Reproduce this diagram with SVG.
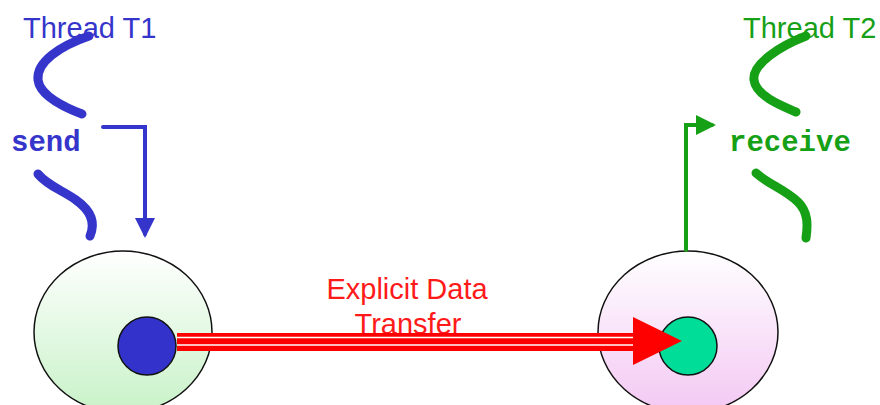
<svg xmlns="http://www.w3.org/2000/svg" width="880" height="405" viewBox="0 0 880 405">
  <defs>
    <linearGradient id="gGreen" x1="0" y1="0" x2="0" y2="1">
      <stop offset="0" stop-color="#ffffff"/>
      <stop offset="1" stop-color="#c8f2c8"/>
    </linearGradient>
    <linearGradient id="gPink" x1="0" y1="0" x2="0" y2="1">
      <stop offset="0" stop-color="#ffffff"/>
      <stop offset="1" stop-color="#f3c8f3"/>
    </linearGradient>
    <marker id="arrBlue" markerWidth="5" markerHeight="5" refX="4" refY="2.5" orient="auto" markerUnits="strokeWidth">
      <path d="M0,0 L5,2.5 L0,5 Z" fill="#3535cc"/>
    </marker>
    <marker id="arrGreen" markerWidth="5" markerHeight="5" refX="4" refY="2.5" orient="auto" markerUnits="strokeWidth">
      <path d="M0,0 L5,2.5 L0,5 Z" fill="#16a016"/>
    </marker>
  </defs>
  <style>
    .title { font-family: "Liberation Sans", Arial, sans-serif; font-size: 29px; }
    .op { font-family: "Liberation Mono", "Courier New", monospace; font-size: 29px; font-weight: bold; }
    .blue { fill: #3535cc; }
    .green { fill: #16a016; }
    .stroke-blue { stroke: #3535cc; fill: none; stroke-linecap: round; }
    .stroke-green { stroke: #16a016; fill: none; stroke-linecap: round; }
    .cell { stroke: #111; stroke-width: 1.5; }
    .label { font-family: "Liberation Sans", Arial, sans-serif; font-size: 29px; fill: #ff1a1a; text-anchor: middle; }
  </style>

  <rect width="880" height="405" fill="#ffffff"/>

  <!-- Thread T1 -->
  <g id="thread-t1">
    <text class="title blue" x="23" y="38">Thread T1</text>
    <path class="stroke-blue" stroke-width="9" d="M89,36 C60,46 36,62 38,80 C40,96 66,108 82,114"/>
    <text class="op blue" x="11" y="151">send</text>
    <path class="stroke-blue" stroke-width="9" d="M38,174 C48,186 62,190 76,200 C90,210 96,222 90,236"/>
  </g>

  <!-- Thread T2 -->
  <g id="thread-t2">
    <text class="title green" x="743" y="38">Thread T2</text>
    <path class="stroke-green" stroke-width="9" d="M806,36 C780,46 752,64 754,80 C756,96 782,106 796,112"/>
    <text class="op green" x="729" y="151">receive</text>
    <path class="stroke-green" stroke-width="9" d="M756,173 C768,184 786,190 798,202 C808,212 808,224 806,238"/>
  </g>

  <!-- Process 1 -->
  <g id="process-1">
    <ellipse class="cell" cx="123" cy="332" rx="89" ry="81" fill="url(#gGreen)"/>
    <circle class="cell" cx="147" cy="346" r="29" fill="#3333cc"/>
  </g>

  <!-- Process 2 -->
  <g id="process-2">
    <ellipse class="cell" cx="688" cy="332" rx="90" ry="81" fill="url(#gPink)"/>
    <circle class="cell" cx="688" cy="346" r="29" fill="#00dd99"/>
  </g>

  <!-- Connectors -->
  <g id="connectors">
    <path class="stroke-blue" stroke-width="4" stroke-linecap="butt" d="M103,127 H145 V234" marker-end="url(#arrBlue)"/>
    <path class="stroke-green" stroke-width="4" stroke-linecap="butt" d="M686,250 V125 H712" marker-end="url(#arrGreen)"/>

    <!-- data transfer: label first, then three parallel red strokes ending in a solid head -->
    <text class="label" x="407" y="299">Explicit Data</text>
    <text class="label" x="408" y="334">Transfer</text>
    <rect x="177" y="333" width="458" height="18" fill="#ff0000"/>
    <line x1="177" y1="337.5" x2="635" y2="337.5" stroke="#ffffff" stroke-width="1.3"/>
    <line x1="177" y1="345" x2="635" y2="345" stroke="#ffffff" stroke-width="1.3"/>
    <polygon points="633,317 682,341 633,365" fill="#ff0000"/>
  </g>
</svg>
